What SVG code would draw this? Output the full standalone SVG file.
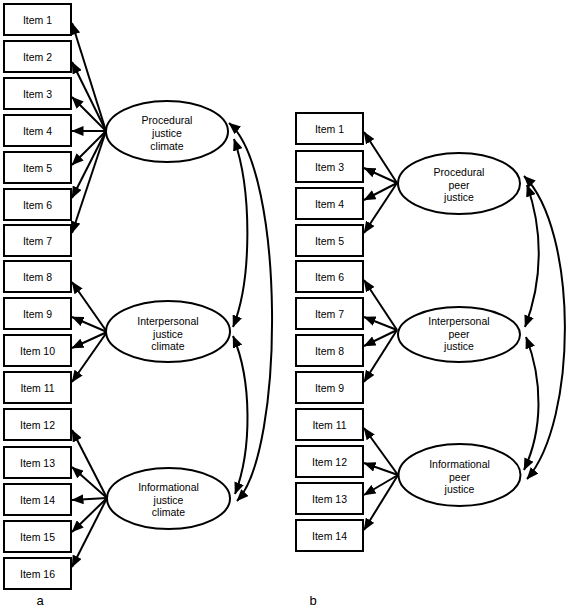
<svg xmlns="http://www.w3.org/2000/svg" width="567" height="608" viewBox="0 0 567 608">
<defs>
<style>
.box{fill:#fff;stroke:#000;stroke-width:2}
.ell{fill:#fff;stroke:#000;stroke-width:2}
.t{font-family:"Liberation Sans",Arial,sans-serif;font-size:10.5px;fill:#000;text-anchor:middle}
.lbl{font-family:"Liberation Sans",Arial,sans-serif;font-size:13px;fill:#000;text-anchor:middle}
.ln{fill:none;stroke:#000;stroke-width:2;marker-end:url(#ah)}
.cv{fill:none;stroke:#000;stroke-width:2;marker-start:url(#ah);marker-end:url(#ah)}
</style>
<marker id="ah" markerUnits="userSpaceOnUse" markerWidth="12" markerHeight="10" refX="11.5" refY="5" orient="auto-start-reverse">
<path d="M0,0 L12,5 L0,10 z" fill="#000"/>
</marker>
</defs>
<g id="connectors">
<path class="ln" d="M106,131 L72,23"/>
<path class="ln" d="M106,131 L72,62"/>
<path class="ln" d="M106,131 L72,97"/>
<path class="ln" d="M106,131 L72,131"/>
<path class="ln" d="M106,131 L72,165"/>
<path class="ln" d="M106,131 L72,198"/>
<path class="ln" d="M106,131 L72,233"/>
<path class="ln" d="M107,332 L72,282"/>
<path class="ln" d="M107,332 L72,317"/>
<path class="ln" d="M107,332 L72,348"/>
<path class="ln" d="M107,332 L72,382"/>
<path class="ln" d="M107,498 L72,430"/>
<path class="ln" d="M107,498 L72,467"/>
<path class="ln" d="M107,498 L72,500"/>
<path class="ln" d="M107,498 L72,532"/>
<path class="ln" d="M107,498 L72,567"/>
<path class="cv" d="M234,139 C252,190 252,280 233,327"/>
<path class="cv" d="M233,336 C252,380 252,450 235,494"/>
<path class="cv" d="M229,123 C285,170 285,450 237,501"/>
<path class="ln" d="M397,183 L364,132"/>
<path class="ln" d="M397,183 L364,168"/>
<path class="ln" d="M397,183 L364,200"/>
<path class="ln" d="M397,183 L364,233"/>
<path class="ln" d="M397,330 L364,280"/>
<path class="ln" d="M397,330 L364,317"/>
<path class="ln" d="M397,330 L364,346"/>
<path class="ln" d="M397,330 L364,382"/>
<path class="ln" d="M398,475 L364,428"/>
<path class="ln" d="M398,475 L364,463"/>
<path class="ln" d="M398,475 L364,495"/>
<path class="ln" d="M398,475 L364,530"/>
<path class="cv" d="M527,185 C543,230 543,280 525,327"/>
<path class="cv" d="M526,337 C543,380 543,430 524,470"/>
<path class="cv" d="M524,176 C578,230 578,420 527,479"/>
</g>
<g id="a-item1"><rect class="box" x="4" y="4" width="67" height="31"/><text class="t" x="37.5" y="23.5">Item 1</text></g>
<g id="a-item2"><rect class="box" x="4" y="41" width="67" height="31"/><text class="t" x="37.5" y="60.5">Item 2</text></g>
<g id="a-item3"><rect class="box" x="4" y="78" width="67" height="31"/><text class="t" x="37.5" y="97.5">Item 3</text></g>
<g id="a-item4"><rect class="box" x="4" y="115" width="67" height="31"/><text class="t" x="37.5" y="134.5">Item 4</text></g>
<g id="a-item5"><rect class="box" x="4" y="152" width="67" height="31"/><text class="t" x="37.5" y="171.5">Item 5</text></g>
<g id="a-item6"><rect class="box" x="4" y="189" width="67" height="31"/><text class="t" x="37.5" y="208.5">Item 6</text></g>
<g id="a-item7"><rect class="box" x="4" y="225" width="67" height="31"/><text class="t" x="37.5" y="244.5">Item 7</text></g>
<g id="a-item8"><rect class="box" x="4" y="261" width="67" height="31"/><text class="t" x="37.5" y="280.5">Item 8</text></g>
<g id="a-item9"><rect class="box" x="4" y="298" width="67" height="31"/><text class="t" x="37.5" y="317.5">Item 9</text></g>
<g id="a-item10"><rect class="box" x="4" y="335" width="67" height="31"/><text class="t" x="37.5" y="354.5">Item 10</text></g>
<g id="a-item11"><rect class="box" x="4" y="372" width="67" height="31"/><text class="t" x="37.5" y="391.5">Item 11</text></g>
<g id="a-item12"><rect class="box" x="4" y="409" width="67" height="31"/><text class="t" x="37.5" y="428.5">Item 12</text></g>
<g id="a-item13"><rect class="box" x="4" y="447" width="67" height="31"/><text class="t" x="37.5" y="466.5">Item 13</text></g>
<g id="a-item14"><rect class="box" x="4" y="484" width="67" height="31"/><text class="t" x="37.5" y="503.5">Item 14</text></g>
<g id="a-item15"><rect class="box" x="4" y="521" width="67" height="31"/><text class="t" x="37.5" y="540.5">Item 15</text></g>
<g id="a-item16"><rect class="box" x="4" y="558" width="67" height="31"/><text class="t" x="37.5" y="577.5">Item 16</text></g>
<g id="a-procedural"><ellipse class="ell" cx="167" cy="131.5" rx="61" ry="30.5"/><text class="t" x="167" y="124">Procedural</text><text class="t" x="167" y="137">justice</text><text class="t" x="167" y="150">climate</text></g>
<g id="a-interpersonal"><ellipse class="ell" cx="168" cy="331.5" rx="62" ry="30.5"/><text class="t" x="168" y="325">Interpersonal</text><text class="t" x="168" y="337.5">justice</text><text class="t" x="168" y="350">climate</text></g>
<g id="a-informational"><ellipse class="ell" cx="168.5" cy="498.5" rx="61.5" ry="30.5"/><text class="t" x="168.5" y="491">Informational</text><text class="t" x="168.5" y="503.5">justice</text><text class="t" x="168.5" y="516">climate</text></g>
<g id="b-item1"><rect class="box" x="296" y="113" width="67" height="31"/><text class="t" x="329.5" y="132.5">Item 1</text></g>
<g id="b-item3"><rect class="box" x="296" y="151" width="67" height="31"/><text class="t" x="329.5" y="170.5">Item 3</text></g>
<g id="b-item4"><rect class="box" x="296" y="188" width="67" height="31"/><text class="t" x="329.5" y="207.5">Item 4</text></g>
<g id="b-item5"><rect class="box" x="296" y="225" width="67" height="31"/><text class="t" x="329.5" y="244.5">Item 5</text></g>
<g id="b-item6"><rect class="box" x="296" y="261" width="67" height="31"/><text class="t" x="329.5" y="280.5">Item 6</text></g>
<g id="b-item7"><rect class="box" x="296" y="298" width="67" height="31"/><text class="t" x="329.5" y="317.5">Item 7</text></g>
<g id="b-item8"><rect class="box" x="296" y="335" width="67" height="31"/><text class="t" x="329.5" y="354.5">Item 8</text></g>
<g id="b-item9"><rect class="box" x="296" y="372" width="67" height="31"/><text class="t" x="329.5" y="391.5">Item 9</text></g>
<g id="b-item11"><rect class="box" x="296" y="409" width="67" height="31"/><text class="t" x="329.5" y="428.5">Item 11</text></g>
<g id="b-item12"><rect class="box" x="296" y="446" width="67" height="31"/><text class="t" x="329.5" y="465.5">Item 12</text></g>
<g id="b-item13"><rect class="box" x="296" y="483" width="67" height="31"/><text class="t" x="329.5" y="502.5">Item 13</text></g>
<g id="b-item14"><rect class="box" x="296" y="520" width="67" height="31"/><text class="t" x="329.5" y="539.5">Item 14</text></g>
<g id="b-procedural"><ellipse class="ell" cx="459" cy="183.5" rx="61" ry="30.5"/><text class="t" x="459" y="176">Procedural</text><text class="t" x="459" y="188.5">peer</text><text class="t" x="459" y="201">justice</text></g>
<g id="b-interpersonal"><ellipse class="ell" cx="459" cy="334.5" rx="61" ry="27.5"/><text class="t" x="459" y="325">Interpersonal</text><text class="t" x="459" y="337.5">peer</text><text class="t" x="459" y="350">justice</text></g>
<g id="b-informational"><ellipse class="ell" cx="459.5" cy="475" rx="61" ry="31"/><text class="t" x="459.5" y="468">Informational</text><text class="t" x="459.5" y="480.5">peer</text><text class="t" x="459.5" y="493">justice</text></g>
<text class="lbl" x="40" y="605">a</text>
<text class="lbl" x="313" y="605">b</text>
</svg>
